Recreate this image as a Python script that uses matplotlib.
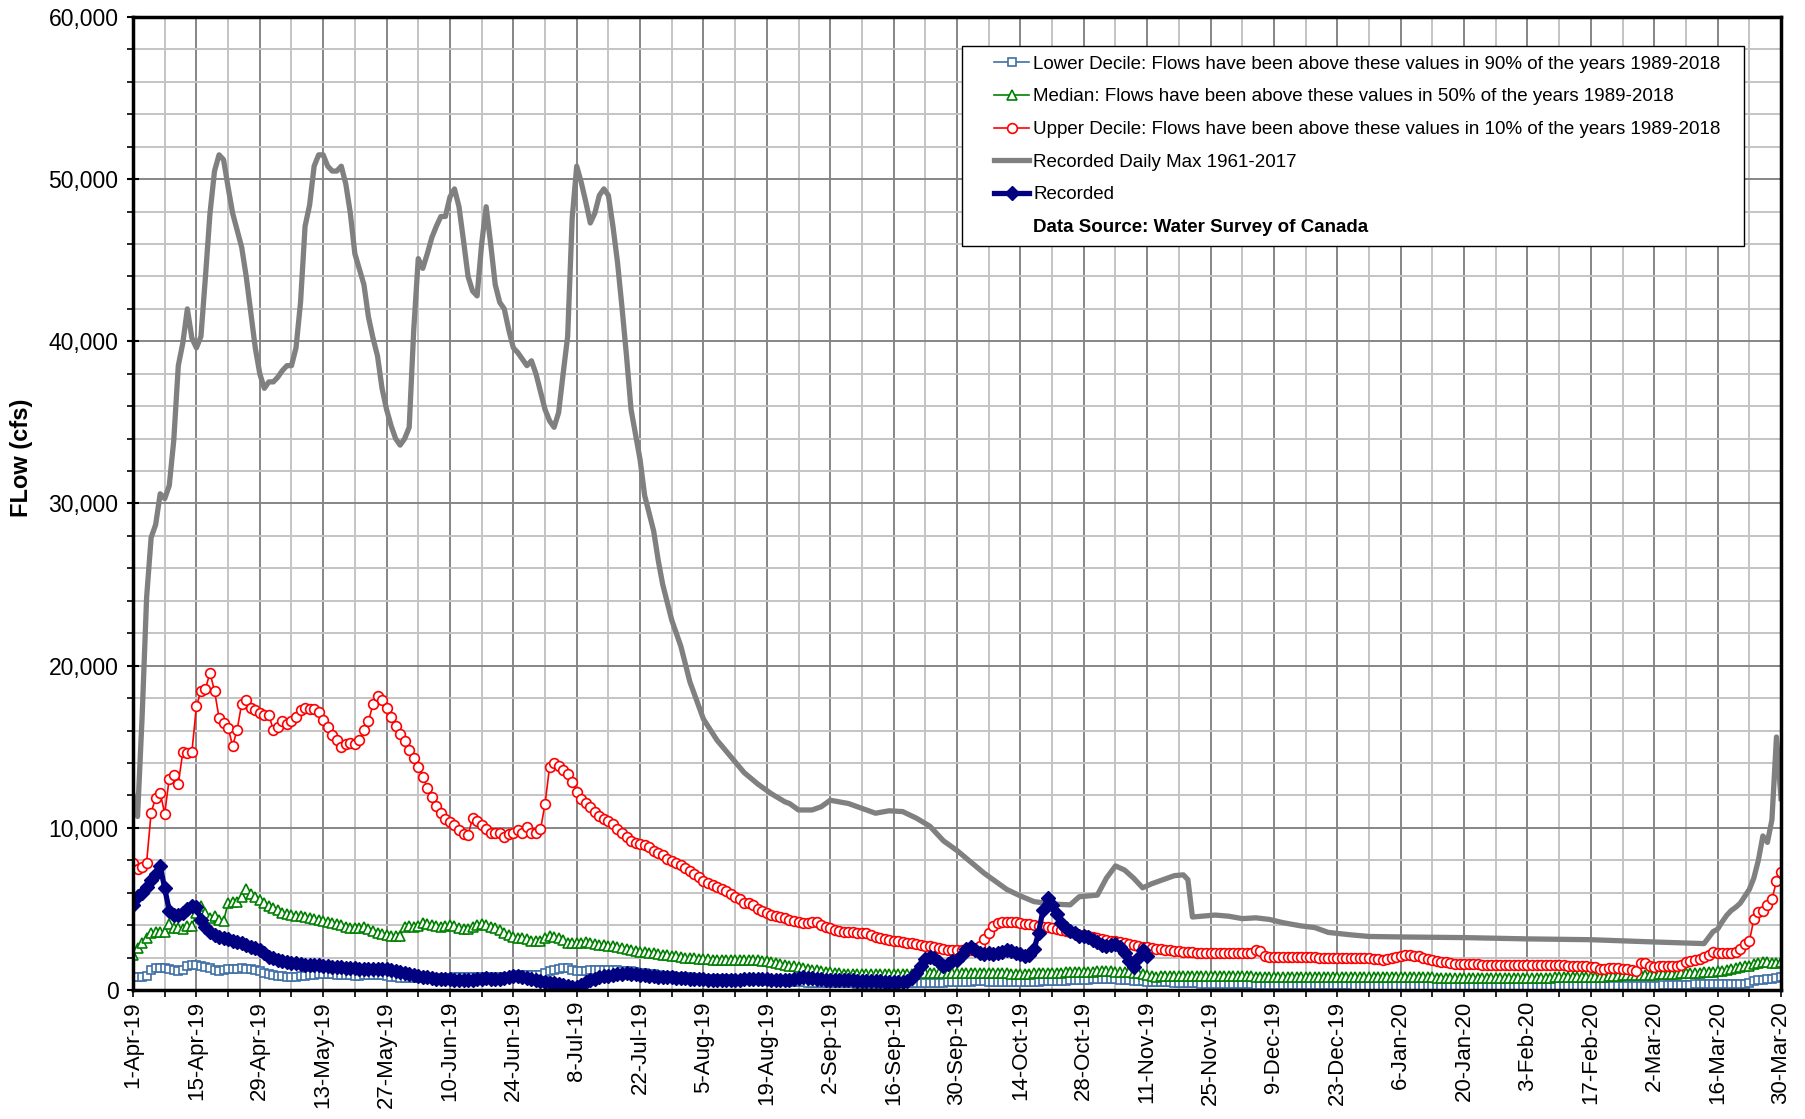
import matplotlib
matplotlib.use('Agg')
import matplotlib.pyplot as plt
import matplotlib.ticker as mticker
from matplotlib.lines import Line2D
from matplotlib.patches import Rectangle
import pandas as pd

plt.rcParams['font.family'] = ['Liberation Sans', 'DejaVu Sans']

# daily flows (cfs), 1-Apr-19 .. 30-Mar-20, one row = 14 days
upper_decile = [
    7860, 7490, 7560, 7860, 10940, 11850, 12150, 10880, 13040, 13280, 12730, 14680, 14620, 14680,
    17490, 18440, 18580, 19560, 18440, 16790, 16490, 16180, 15050, 16050, 17660, 17900, 17410, 17250,
    17080, 16940, 16980, 16010, 16220, 16570, 16380, 16590, 16830, 17250, 17410, 17350, 17350, 17140,
    16670, 16220, 15750, 15400, 14990, 15190, 15230, 15190, 15400, 16010, 16570, 17620, 18110, 17900,
    17410, 16830, 16260, 15810, 15360, 14780, 14330, 13750, 13140, 12480, 11870, 11350, 10920, 10570,
    10330, 10160, 9850, 9590, 9550, 10610, 10410, 10160, 9920, 9710, 9650, 9710, 9440, 9610,
    9710, 9850, 9650, 10060, 9650, 9710, 9900, 11460, 13750, 14000, 13820, 13590, 13300, 12830,
    12200, 11800, 11500, 11300, 11000, 10700, 10550, 10450, 10250, 9950, 9700, 9450, 9200, 9050,
    9000, 8940, 8810, 8600, 8470, 8300, 8100, 7950, 7830, 7680, 7500, 7360, 7170, 6950,
    6730, 6580, 6450, 6330, 6200, 6090, 5930, 5760, 5580, 5390, 5380, 5270, 5010, 4840,
    4730, 4640, 4560, 4490, 4420, 4320, 4230, 4180, 4130, 4120, 4180, 4180, 4020, 3900,
    3810, 3720, 3660, 3600, 3570, 3550, 3540, 3540, 3520, 3380, 3260, 3190, 3130, 3090,
    3040, 3000, 2950, 2910, 2870, 2810, 2760, 2720, 2690, 2640, 2590, 2540, 2490, 2450,
    2470, 2480, 2480, 2490, 2520, 2700, 3150, 3500, 3950, 4100, 4180, 4210, 4210, 4180,
    4120, 4080, 4040, 4000, 3960, 3910, 3860, 3800, 3750, 3690, 3620, 3560, 3500, 3420,
    3370, 3320, 3270, 3220, 3170, 3100, 3040, 2990, 2930, 2880, 2830, 2760, 2720, 2670,
    2630, 2590, 2540, 2500, 2460, 2440, 2410, 2390, 2370, 2340, 2320, 2300, 2290, 2280,
    2280, 2280, 2280, 2280, 2280, 2290, 2280, 2280, 2280, 2290, 2480, 2380, 2080, 2030,
    2030, 2030, 2040, 2030, 2030, 2020, 2030, 2030, 2030, 2010, 2000, 1990, 1990, 1990,
    1990, 1990, 1990, 1990, 1990, 1980, 1970, 1950, 1930, 1900, 1860, 1900, 1990, 2050,
    2090, 2130, 2130, 2110, 2070, 2000, 1930, 1860, 1800, 1740, 1700, 1660, 1630, 1610,
    1610, 1600, 1590, 1580, 1570, 1570, 1570, 1570, 1570, 1570, 1560, 1550, 1540, 1520,
    1510, 1510, 1510, 1510, 1510, 1510, 1510, 1510, 1510, 1500, 1490, 1480, 1470, 1450,
    1420, 1390, 1320, 1300, 1330, 1350, 1340, 1320, 1300, 1260, 1200, 1660, 1680, 1500,
    1420, 1450, 1450, 1450, 1460, 1500, 1570, 1700, 1780, 1820, 1900, 2020, 2180, 2340,
    2300, 2280, 2280, 2300, 2340, 2550, 2850, 3000, 4350, 4800, 4900, 5250, 5600, 6700,
    7300]

median = [
    2160, 2570, 2920, 3220, 3490, 3590, 3590, 3590, 4060, 3800, 3800, 3740, 3940, 3940,
    4720, 5170, 4720, 4410, 4560, 4310, 4250, 5380, 5440, 5440, 5750, 6200, 5910, 5750,
    5540, 5340, 5170, 5030, 4930, 4760, 4680, 4600, 4560, 4560, 4520, 4450, 4390, 4310,
    4250, 4190, 4110, 4040, 3980, 3900, 3840, 3800, 3840, 3860, 3740, 3630, 3530, 3450,
    3390, 3350, 3330, 3330, 3900, 3940, 3900, 3940, 4150, 4060, 4000, 3940, 3900, 3940,
    4000, 3940, 3800, 3740, 3740, 3860, 4000, 4060, 4000, 3900, 3800, 3700, 3530, 3390,
    3280, 3220, 3180, 3120, 3040, 3040, 3040, 3180, 3330, 3280, 3220, 3080, 2920, 2870,
    2920, 2920, 2980, 2920, 2830, 2800, 2760, 2730, 2690, 2640, 2580, 2520, 2480, 2430,
    2370, 2340, 2290, 2250, 2210, 2170, 2140, 2100, 2070, 2040, 2000, 1970, 1950, 1920,
    1900, 1890, 1870, 1860, 1850, 1830, 1820, 1820, 1820, 1820, 1830, 1850, 1860, 1800,
    1760, 1710, 1660, 1620, 1560, 1500, 1450, 1400, 1340, 1300, 1260, 1220, 1180, 1130,
    1080, 1060, 1030, 1000, 990, 980, 980, 980, 980, 990, 1000, 1000, 1000, 1000,
    1000, 1000, 1000, 1000, 1010, 1020, 1040, 1040, 1040, 1040, 1040, 1040, 1040, 1040,
    1040, 1040, 1040, 1050, 1050, 1060, 1060, 1050, 1050, 1040, 1030, 1020, 1000, 990,
    990, 1000, 1010, 1020, 1030, 1030, 1040, 1050, 1060, 1070, 1080, 1090, 1100, 1100,
    1110, 1120, 1130, 1150, 1160, 1150, 1140, 1120, 1110, 1100, 1080, 1050, 1020, 980,
    920, 860, 830, 850, 870, 890, 890, 890, 890, 890, 890, 890, 890, 890,
    890, 890, 890, 890, 890, 880, 870, 860, 850, 840, 830, 820, 810, 800,
    790, 790, 790, 790, 790, 790, 790, 790, 790, 790, 790, 790, 790, 790,
    790, 790, 790, 790, 790, 790, 800, 810, 820, 830, 830, 820, 810, 800,
    800, 790, 790, 790, 790, 780, 770, 770, 760, 760, 750, 750, 750, 750,
    750, 750, 750, 750, 750, 750, 750, 750, 750, 750, 750, 750, 750, 750,
    750, 750, 750, 760, 760, 760, 770, 770, 770, 780, 780, 780, 790, 790,
    790, 800, 810, 830, 850, 870, 890, 900, 910, 920, 930, 940, 950, 950,
    950, 960, 970, 990, 1000, 1010, 1020, 1040, 1050, 1060, 1070, 1080, 1090, 1100,
    1160, 1200, 1250, 1300, 1350, 1400, 1450, 1500, 1610, 1650, 1700, 1720, 1690, 1660,
    1720]

lower_decile = [
    820, 780, 780, 860, 1230, 1330, 1330, 1330, 1270, 1230, 1190, 1230, 1480, 1540,
    1540, 1480, 1440, 1330, 1230, 1190, 1230, 1270, 1270, 1310, 1330, 1310, 1270, 1230,
    1190, 1070, 990, 920, 860, 860, 820, 820, 820, 860, 860, 900, 940, 990,
    990, 990, 990, 920, 900, 900, 900, 860, 860, 900, 920, 940, 940, 900,
    860, 820, 780, 720, 720, 720, 720, 740, 750, 760, 760, 760, 760, 760,
    760, 770, 770, 780, 780, 780, 780, 780, 780, 780, 780, 790, 800, 820,
    860, 900, 920, 920, 920, 920, 950, 1070, 1190, 1230, 1300, 1380, 1330, 1260,
    1180, 1150, 1190, 1230, 1260, 1260, 1250, 1230, 1220, 1210, 1190, 1160, 1140, 1100,
    1060, 1030, 990, 960, 930, 890, 860, 840, 820, 810, 790, 770, 740, 720,
    700, 680, 670, 670, 670, 660, 650, 640, 620, 610, 600, 590, 590, 590,
    580, 570, 550, 540, 530, 520, 500, 490, 470, 460, 450, 430, 430, 430,
    430, 430, 430, 420, 410, 400, 390, 390, 390, 390, 390, 390, 390, 390,
    390, 400, 410, 420, 430, 430, 430, 430, 430, 440, 450, 460, 470, 480,
    490, 500, 510, 520, 530, 530, 530, 520, 510, 500, 490, 480, 480, 480,
    480, 490, 500, 510, 520, 530, 540, 550, 560, 570, 580, 590, 600, 620,
    630, 640, 660, 670, 680, 670, 660, 650, 630, 610, 590, 570, 550, 540,
    520, 510, 500, 490, 480, 470, 460, 450, 430, 420, 410, 400, 390, 380,
    380, 370, 370, 370, 360, 360, 350, 350, 340, 340, 330, 330, 320, 320,
    310, 310, 300, 300, 290, 290, 290, 290, 290, 290, 290, 290, 290, 280,
    280, 280, 280, 280, 270, 270, 270, 270, 270, 270, 270, 270, 270, 270,
    270, 270, 270, 270, 270, 270, 270, 270, 270, 270, 270, 270, 270, 270,
    270, 270, 270, 270, 270, 270, 270, 270, 270, 270, 270, 270, 270, 270,
    270, 270, 270, 270, 270, 270, 270, 270, 270, 270, 270, 270, 270, 270,
    270, 270, 270, 270, 270, 270, 270, 270, 270, 270, 270, 270, 270, 270,
    270, 270, 280, 290, 300, 310, 320, 330, 330, 340, 340, 350, 350, 360,
    370, 370, 370, 370, 370, 370, 370, 400, 540, 600, 620, 650, 680, 720,
    830]

# recorded 2019-20 flows, 1-Apr-19 .. 11-Nov-19
recorded = [
    5240, 5790, 5950, 6360, 6770, 7140, 7640, 6260, 4890, 4620, 4620, 4760, 4970, 5170,
    5090, 4310, 3900, 3590, 3390, 3280, 3180, 3120, 3040, 2980, 2870, 2770, 2670, 2570,
    2460, 2300, 2050, 1950, 1850, 1810, 1750, 1680, 1640, 1580, 1540, 1540, 1540, 1540,
    1500, 1480, 1440, 1400, 1400, 1350, 1330, 1330, 1310, 1290, 1270, 1270, 1290, 1270,
    1270, 1230, 1190, 1130, 1070, 990, 920, 860, 820, 780, 740, 700, 680, 660,
    660, 620, 620, 620, 620, 620, 660, 700, 720, 700, 680, 660, 720, 780,
    860, 860, 780, 720, 660, 620, 570, 510, 450, 410, 370, 310, 250, 210,
    160, 310, 500, 630, 700, 780, 840, 880, 920, 960, 1000, 1030, 1000, 960,
    940, 900, 870, 840, 830, 820, 800, 780, 760, 740, 720, 700, 680, 670,
    650, 640, 630, 610, 600, 590, 600, 620, 640, 660, 670, 670, 670, 660,
    650, 640, 630, 610, 590, 590, 650, 760, 800, 760, 730, 700, 670, 640,
    630, 610, 600, 590, 590, 590, 580, 560, 540, 530, 530, 530, 520, 500,
    480, 470, 490, 530, 760, 1060, 1500, 1900, 2030, 1950, 1700, 1500, 1600, 1760,
    1870, 2150, 2500, 2650, 2450, 2270, 2200, 2250, 2200, 2250, 2350, 2450, 2400, 2300,
    2200, 2100, 2150, 2500, 3500, 4950, 5650, 5250, 4700, 4100, 3850, 3650, 3500, 3350,
    3300, 3250, 3100, 2950, 2750, 2700, 2800, 2850, 2650, 2250, 1800, 1400, 1950, 2450,
    2100]

# recorded daily max 1961-2017, read at its turning points (days after 1-Apr)
max_day = [0, 1, 2, 3, 4, 5, 6, 7, 8, 9, 10, 11, 12, 13, 14, 15, 16, 17, 18, 19, 20, 21, 22, 24,
           25, 26, 27, 28, 29, 30, 31, 32, 33, 34, 35, 36, 37, 38, 39, 40, 41, 42, 43, 44, 45, 46,
           47, 48, 49, 51, 52, 53, 54, 55, 56, 57, 58, 59, 60, 61, 62, 63, 64, 65, 66, 67, 68, 69,
           70, 71, 72, 73, 74, 75, 76, 77, 78, 79, 80, 81, 82, 83, 84, 85, 86, 87, 88, 89, 90, 91,
           92, 93, 94, 95, 96, 97, 98, 99, 100, 101, 102, 103, 104, 105, 106, 107, 108, 109, 110,
           112, 113, 115, 116, 117, 119, 121, 123, 126, 129, 132, 135, 138, 141, 144, 145, 147,
           150, 152, 154, 156, 158, 161, 164, 167, 170, 173, 176, 179, 182, 185, 188, 191, 193,
           196, 199, 203, 207, 209, 213, 215, 217, 219, 221, 223, 225, 228, 230, 232, 233, 234,
           236, 239, 242, 245, 248, 251, 254, 258, 261, 264, 269, 273, 280, 294, 308, 322, 336,
           343, 347, 349, 350, 351, 352, 353, 354, 355, 357, 358, 359, 360, 361, 362, 363, 364]
max_flow = [12000, 10700, 16800, 24200, 27900, 28700, 30600, 30300, 31100, 33900, 38500, 39900,
            42000, 40200, 39600, 40300, 44000, 47900, 50500, 51500, 51200, 49500, 47900, 45800,
            44000, 41800, 39600, 38000, 37100, 37500, 37500, 37800, 38200, 38500, 38500, 39600,
            42400, 47100, 48400, 50800, 51500, 51500, 50800, 50500, 50500, 50800, 49700, 47900,
            45400, 43500, 41500, 40200, 39100, 37100, 35800, 34800, 34000, 33600, 34000, 34700,
            40700, 45100, 44500, 45400, 46400, 47100, 47700, 47700, 48900, 49400, 48300, 46200,
            44000, 43100, 42800, 46000, 48300, 46000, 43500, 42400, 42000, 40700, 39600, 39300,
            38900, 38500, 38800, 38000, 36900, 35800, 35100, 34700, 35600, 38000, 40300, 47600,
            50800, 49800, 48600, 47300, 47900, 49000, 49400, 49000, 47100, 44900, 42100, 39100,
            35800, 32700, 30500, 28300, 26500, 25000, 22800, 21200, 19000, 16700, 15400, 14400,
            13400, 12700, 12100, 11600, 11500, 11100, 11100, 11300, 11700, 11600, 11500, 11200,
            10900, 11050, 11000, 10600, 10100, 9200, 8600, 7900, 7200, 6600, 6200, 5800, 5450,
            5300, 5250, 5750, 5850, 6900, 7650, 7400, 6900, 6300, 6550, 6850, 7050, 7100, 6800,
            4500, 4550, 4620, 4550, 4400, 4450, 4350, 4150, 3950, 3850, 3550, 3400, 3300, 3270,
            3230, 3150, 3100, 2960, 2900, 2860, 3600, 3750, 4200, 4600, 4900, 5100, 5350, 6200,
            6900, 8000, 9500, 9100, 10500, 15600, 11800]

start = pd.Timestamp('2019-04-01')
days = pd.date_range(start, periods=len(upper_decile), freq='D')
rec_days = days[:len(recorded)]
max_dates = start + pd.to_timedelta(max_day, unit='D')

fig = plt.figure(figsize=(18.05, 11.19), dpi=100)
ax = fig.add_axes([0.0737, 0.1153, 0.9130, 0.8695])

l_low, = ax.plot(days, lower_decile, color='#3F6FA6', lw=1.2, marker='s', ms=6,
                 mfc='white', mec='#3F6FA6', mew=1.2)
l_med, = ax.plot(days, median, color='#008000', lw=1.2, marker='^', ms=6.5,
                 mfc='white', mec='#008000', mew=1.2)
l_up, = ax.plot(days, upper_decile, color='#FF0000', lw=1.2, marker='o', ms=7,
                mfc='white', mec='#FF0000', mew=1.2)
l_max, = ax.plot(max_dates, max_flow, color='#808080', lw=3.8)
l_rec, = ax.plot(rec_days, recorded, color='#000080', lw=3.8, marker='D', ms=7,
                 mfc='#000080', mec='#000080')

ax.set_xlim(days[0], days[-1])
ax.set_ylim(0, 60000)

ax.set_xticks(days[::14])
ax.set_xticklabels([f"{d.day}-{d.strftime('%b-%y')}" for d in days[::14]], rotation=90)
ax.set_xticks(days[7::14], minor=True)
ax.yaxis.set_major_locator(mticker.MultipleLocator(10000))
ax.yaxis.set_minor_locator(mticker.MultipleLocator(2000))
ax.yaxis.set_major_formatter(mticker.FuncFormatter(lambda v, p: f"{int(v):,}"))

ax.grid(which='major', color='#868686', lw=1.4)
ax.grid(which='minor', color='#C4C4C4', lw=1.4)
ax.set_axisbelow(True)

ax.tick_params(axis='y', which='major', direction='inout', length=9, width=1.5,
               labelsize=16.5, pad=6)
ax.tick_params(axis='y', which='minor', direction='out', length=4, width=1.2)
ax.tick_params(axis='x', which='both', direction='out', length=5, width=1.2)
ax.tick_params(axis='x', which='major', labelsize=16, pad=3)

for s in ax.spines.values():
    s.set_linewidth(2.5)
    s.set_color('black')

ax.set_ylabel('FLow (cfs)', fontsize=17, fontweight='bold')
ax.yaxis.set_label_coords(-0.0607, 0.547)

src = Line2D([], [], linestyle='none')
leg = ax.legend([l_low, l_med, l_up, l_max, l_rec, src],
                ['Lower Decile: Flows have been above these values in 90% of the years 1989-2018',
                 'Median: Flows have been above these values in 50% of the years 1989-2018',
                 'Upper Decile: Flows have been above these values in 10% of the years 1989-2018',
                 'Recorded Daily Max 1961-2017',
                 'Recorded',
                 'Data Source: Water Survey of Canada'],
                loc='upper right', bbox_to_anchor=(0.969, 0.970), borderaxespad=0,
                fontsize=13.5, labelspacing=0.83, borderpad=0.5, handlelength=1.9,
                handletextpad=0.2, frameon=False)
leg.get_texts()[-1].set_fontweight('bold')
leg.set_zorder(6)

# legend frame, wider left/right than matplotlib's own padding
fig.canvas.draw()
bb = leg.get_window_extent().transformed(fig.transFigure.inverted())
lpad = 22 / 1805
rpad = 14 / 1805
frame = Rectangle((bb.x0 - lpad, bb.y0), bb.width + lpad + rpad, bb.height,
                  transform=fig.transFigure, facecolor='white', edgecolor='black',
                  lw=1.0, zorder=5.5)
ax.add_patch(frame)

fig.savefig('out.png', dpi=100)
